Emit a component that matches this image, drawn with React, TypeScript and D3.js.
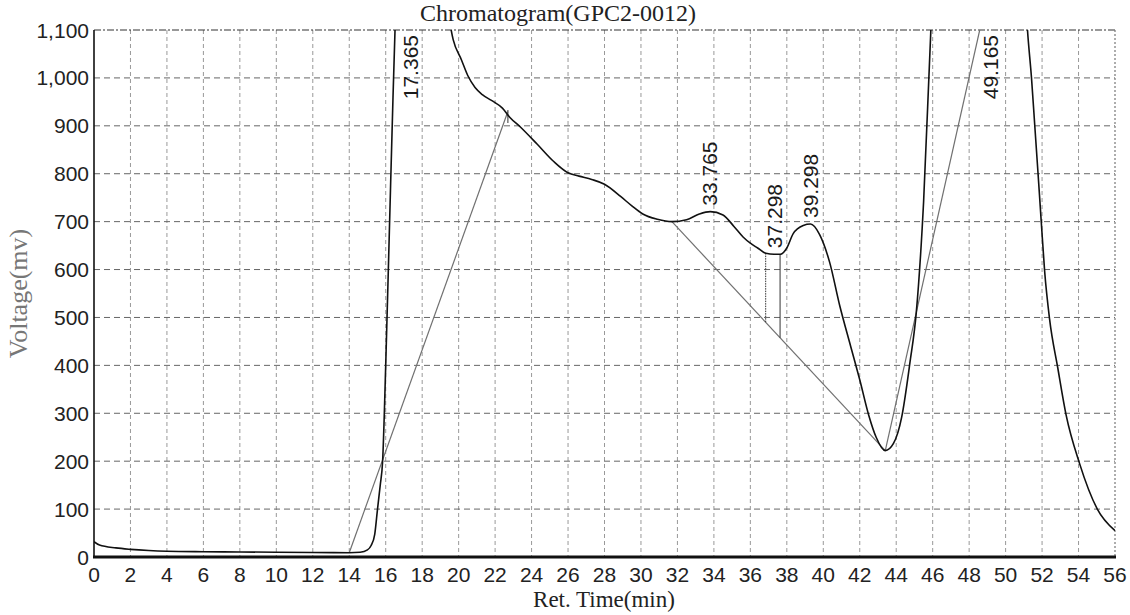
import React from "react";
import * as d3 from "d3";

// chromatogram trace (retention time in min, signal in mV)
const retTimes = [
  0, 0.3, 1.2, 2, 3, 4, 6, 8, 10, 12, 14, 14.6, 15.0, 15.2, 15.4, 15.55, 15.7, 15.83, 16.0, 16.2, 16.4,
  16.55, 17.365, 18.5, 19.4, 19.7, 20.15, 20.5, 20.9, 21.3, 21.8, 22.4, 22.8, 23.4, 24.3, 25.2, 26.0,
  26.6, 27.3, 28.0, 28.9, 29.5, 30.1, 30.9, 31.7, 32.5, 33.2, 33.8, 34.5, 35.1, 35.6, 36.0, 36.4, 36.85,
  37.3, 37.65, 38.0, 38.35, 38.9, 39.3, 39.8, 40.35, 40.9, 41.5, 42.0, 42.5, 42.9, 43.4, 43.85, 44.3,
  44.75, 45.1, 45.5, 45.9, 46.3, 49.165, 50.8, 51.2, 51.42, 51.6, 51.78, 51.96, 52.14, 52.41, 52.86,
  53.32, 54.04, 55.03, 56,
];
const voltages = [
  32, 25, 19, 16, 13.5, 12, 11, 10.5, 10, 9.5, 9, 10, 15, 24, 48, 100, 150, 200, 400, 680, 960,
  1150, 1900, 1400, 1140, 1080, 1038, 1005, 980, 965, 953, 937, 918, 897, 862, 826, 802,
  795, 788, 778, 752, 733, 716, 705, 700, 704, 716, 721, 714, 690, 668, 655, 645, 634,
  632, 632, 645, 675, 692, 695, 673, 615, 525, 440, 370, 295, 250, 222, 237, 292,
  405, 510, 740, 1100, 1400, 2500, 1400, 1100, 1000, 900, 800, 697, 597, 497, 395,
  296, 197, 100, 55,
];

// integration baselines drawn by the software: [t0, v0, t1, v1]
const baselines = [
  [14.0, 9, 22.7, 930],
  [31.7, 700, 43.4, 222],
  [43.4, 222, 48.58, 1100],
];

// peak split drop lines (time), dotted or solid
const dropTimes = [36.84, 37.63];
const dropDotted = [true, false];

const peakLabels = ["17.365", "33.765", "37.298", "39.298", "49.165"];
const peakTimes = [17.365, 33.765, 37.298, 39.298, 49.165];

const peakEndMarks = [22.7];

const xTicks = d3.range(0, 57, 2);
const yTicks = d3.range(0, 1101, 100);

const width = 1130;
const height = 615;
const margin = { left: 94, right: 15, top: 30, bottom: 58 };

export default function App() {
  const x = d3.scaleLinear().domain([0, 56]).range([margin.left, width - margin.right]);
  const y = d3.scaleLinear().domain([0, 1100]).range([height - margin.bottom, margin.top]);

  const points: [number, number][] = retTimes.map((t, i) => [t, voltages[i]]);
  const line = d3
    .line<[number, number]>()
    .x((d) => x(d[0]))
    .y((d) => y(d[1]))
    .curve(d3.curveMonotoneX);

  const signalAt = (t: number) => {
    const i = d3.bisectLeft(retTimes, t);
    if (i <= 0) return voltages[0];
    const t0 = retTimes[i - 1], t1 = retTimes[i];
    const k = (t - t0) / (t1 - t0);
    return voltages[i - 1] + k * (voltages[i] - voltages[i - 1]);
  };
  const baselineAt = (t: number) => {
    const b = baselines.find((b) => t >= b[0] && t <= b[2]) ?? baselines[1];
    return b[1] + ((t - b[0]) / (b[2] - b[0])) * (b[3] - b[1]);
  };

  const x0 = x(0), x1 = x(56), yTop = y(1100), yBot = y(0);
  const sans = "'Liberation Sans', Arial, sans-serif";
  const serif = "'Liberation Serif', 'Times New Roman', serif";

  return (
    <svg
      width={width}
      height={height}
      style={{ position: "absolute", left: 0, top: 0, background: "#fff" }}
    >
      <defs>
        <clipPath id="plot">
          <rect x={x0} y={yTop} width={x1 - x0} height={yBot - yTop} />
        </clipPath>
      </defs>

      {/* grid */}
      {xTicks.filter((t) => t > 0 && t < 56).map((t) => (
        <line key={`vx${t}`} x1={x(t)} x2={x(t)} y1={yTop} y2={yBot}
          stroke="#999" strokeWidth={1} strokeDasharray="4,3" />
      ))}
      {yTicks.filter((v) => v > 0 && v < 1100).map((v) => (
        <line key={`hy${v}`} x1={x0} x2={x1} y1={y(v)} y2={y(v)}
          stroke="#666" strokeWidth={1} strokeDasharray="6,4" />
      ))}

      {/* frame */}
      <line x1={x0} x2={x1} y1={yTop} y2={yTop} stroke="#333" strokeWidth={1.2} strokeDasharray="7,2,2,2" />
      <line x1={x1} x2={x1} y1={yTop} y2={yBot} stroke="#777" strokeWidth={1.2} strokeDasharray="2,2" />
      <line x1={x0} x2={x0} y1={yTop} y2={yBot} stroke="#111" strokeWidth={1.6} />

      <g clipPath="url(#plot)">
        {baselines.map((b, i) => (
          <line key={`bl${i}`} x1={x(b[0])} y1={y(b[1])} x2={x(b[2])} y2={y(b[3])}
            stroke="#707070" strokeWidth={1.2} />
        ))}
        {dropTimes.map((t, i) => (
          <line key={`dl${i}`} x1={x(t)} x2={x(t)} y1={y(signalAt(t))} y2={y(baselineAt(t))}
            stroke="#333" strokeWidth={1} strokeDasharray={dropDotted[i] ? "1.5,1" : undefined} />
        ))}
        {peakEndMarks.map((t) => (
          <line key={`pm${t}`} x1={x(t)} x2={x(t)} y1={y(signalAt(t)) - 5} y2={y(signalAt(t)) + 8}
            stroke="#555" strokeWidth={1.2} />
        ))}
        <path d={line(points) ?? ""} fill="none" stroke="#111" strokeWidth={1.6} />
      </g>

      <line x1={x0 - 1} x2={x1 + 1} y1={yBot} y2={yBot} stroke="#111" strokeWidth={3} />

      {/* peak labels */}
      {peakTimes.map((t, i) => {
        const v = signalAt(t);
        const offScale = v > 1000;
        const px = x(t);
        const py = offScale ? yTop + 5 : y(v) - 6;
        return (
          <text key={`pk${i}`} transform={`translate(${px},${py}) rotate(-90)`}
            textAnchor={offScale ? "end" : "start"} dy="0.36em"
            fontFamily={sans} fontSize={21} fill="#1a1a1a">
            {peakLabels[i]}
          </text>
        );
      })}

      {/* y axis labels */}
      {yTicks.map((v) => (
        <text key={`yt${v}`} x={x0 - 5} y={y(v)} dy="0.36em" textAnchor="end"
          fontFamily={sans} fontSize={21} fill="#222">
          {d3.format(",")(v)}
        </text>
      ))}
      {/* x axis labels */}
      {xTicks.map((t) => (
        <text key={`xt${t}`} x={x(t)} y={yBot + 25} textAnchor="middle"
          fontFamily={sans} fontSize={21} fill="#222">
          {t}
        </text>
      ))}

      <text x={558} y={21} textAnchor="middle" fontFamily={serif} fontSize={24} fill="#222">
        Chromatogram(GPC2-0012)
      </text>
      <text x={604} y={607} textAnchor="middle" fontFamily={serif} fontSize={23} fill="#222">
        Ret. Time(min)
      </text>
      <text transform={`translate(27,${(yTop + yBot) / 2}) rotate(-90)`} textAnchor="middle"
        fontFamily={serif} fontSize={26} fill="#777">
        Voltage(mv)
      </text>
    </svg>
  );
}
